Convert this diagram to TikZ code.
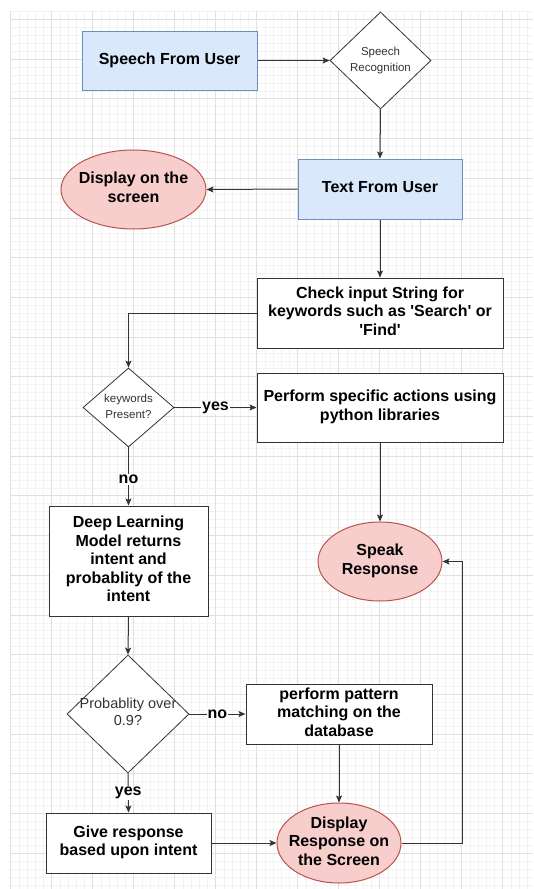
\documentclass[tikz,border=0pt]{standalone}
\usepackage{fontspec}
\newfontfamily\arial{Liberation Sans}
\usetikzlibrary{shapes.geometric,arrows.meta}
\definecolor{bfill}{HTML}{DAE8FC}
\definecolor{bline}{HTML}{6C8EBF}
\definecolor{rfill}{HTML}{F8CECC}
\definecolor{rline}{HTML}{B85450}
\definecolor{ink}{HTML}{333333}
\definecolor{gmaj}{HTML}{E0E0E0}
\definecolor{gmin}{HTML}{F3F3F3}
\newcommand{\zc}[1]{\makebox[0pt]{\begin{tabular}{@{}c@{}}#1\end{tabular}}}
\begin{document}
\begin{tikzpicture}[x=1pt,y=-1pt,
  base/.style={font=\arial\bfseries\fontsize{16}{18.4}\selectfont, align=center, line width=1pt, inner sep=0pt},
  bluebox/.style={base, rectangle, draw=bline, fill=bfill},
  wbox/.style={base, rectangle, draw=ink, fill=white},
  redell/.style={base, ellipse, draw=rline, fill=rfill},
  dia/.style={diamond, draw=ink, fill=white, line width=0.8pt, inner sep=0pt, text=ink, font=\arial\fontsize{11.5}{15.3}\selectfont},
  arr/.style={draw=ink, line width=1pt, -{Stealth[length=7pt,width=6pt,inset=1.5pt]}},
  lbl/.style={font=\arial\bfseries\fontsize{16}{18}\selectfont, fill=white, inner sep=1pt}]
\useasboundingbox (0,0) rectangle (533,889);
\fill[white] (0,0) rectangle (533,889);
% grid
\foreach \i in {0,...,63} \draw[gmin, line width=0.5pt] ({10.7+8.2*\i},11.4) -- ({10.7+8.2*\i},889);
\foreach \j in {0,...,110} \draw[gmin, line width=0.5pt] (10.7,{11.4+7.94*\j}) -- (533,{11.4+7.94*\j});
\foreach \i in {0,...,12} \draw[gmaj, line width=0.6pt] ({10.7+41*\i},11.4) -- ({10.7+41*\i},889);
\foreach \j in {0,...,21} \draw[gmaj, line width=0.6pt] (10.7,{19.34+39.7*\j}) -- (533,{19.34+39.7*\j});
% nodes
\node[bluebox, minimum width=175pt, minimum height=59pt] (speech) at (169.5,60.5) {\zc{Speech From User}};
\node[dia, minimum width=101pt, minimum height=97pt] (recog) at (380.5,60.5) {\zc{Speech\\Recognition}};
\node[bluebox, minimum width=164pt, minimum height=60pt] (text) at (380,189) {\zc{Text From User}};
\node[redell, minimum width=145pt, minimum height=79pt] (disp1) at (133.5,189.5) {\zc{Display on the\\screen}};
\node[wbox, minimum width=246pt, minimum height=70pt] (check) at (380,313) {\zc{Check input String for\\keywords such as 'Search' or\\'Find'}};
\node[dia, minimum width=91pt, minimum height=79pt] (kw) at (128.5,407.5) {\zc{keywords\\Present?}};
\node[wbox, minimum width=246pt, minimum height=69pt] (perform) at (380,407.5) {\zc{Perform specific actions using\\python libraries}};
\node[wbox, minimum width=159pt, minimum height=110pt] (deep) at (128.5,561) {\zc{Deep Learning\\Model returns\\intent and\\probablity of the\\intent}};
\node[redell, minimum width=124pt, minimum height=79pt] (speak) at (380,561.5) {\zc{Speak\\Response}};
\node[dia, minimum width=122pt, minimum height=118pt, font=\arial\fontsize{14.5}{16.7}\selectfont] (prob) at (128,714) {\zc{Probablity over\\0.9?}};
\node[wbox, minimum width=186pt, minimum height=60pt] (pattern) at (339,714) {\zc{perform pattern\\matching on the\\database}};
\node[redell, minimum width=124pt, minimum height=80pt] (disp2) at (339,843) {\zc{Display\\Response on\\the Screen}};
\node[wbox, minimum width=165pt, minimum height=60pt] (give) at (128.5,843) {\zc{Give response\\based upon intent}};
\coordinate (loop) at (462,843);
% connectors
\draw[arr] (speech.east) -- (recog.west);
\draw[arr] (recog.south) -- (text.north);
\draw[arr] (text.west) -- (disp1.east);
\draw[arr] (text.south) -- (check.north);
\draw[arr] (check.west) -| (kw.north);
\draw[arr] (kw.east) -- node[lbl, pos=0.5] {yes} (perform.west);
\draw[arr] (kw.south) -- node[lbl, pos=0.55] {no} (deep.north);
\draw[arr] (perform.south) -- (speak.north);
\draw[arr] (deep.south) -- (prob.north);
\draw[arr] (prob.east) -- node[lbl, pos=0.5] {no} (pattern.west);
\draw[arr] (prob.south) -- node[lbl, pos=0.5] {yes} (give.north);
\draw[arr] (pattern.south) -- (disp2.north);
\draw[arr] (give.east) -- (disp2.west);
\draw[arr] (disp2.east) -- (loop) |- (speak.east);
\end{tikzpicture}
\end{document}
